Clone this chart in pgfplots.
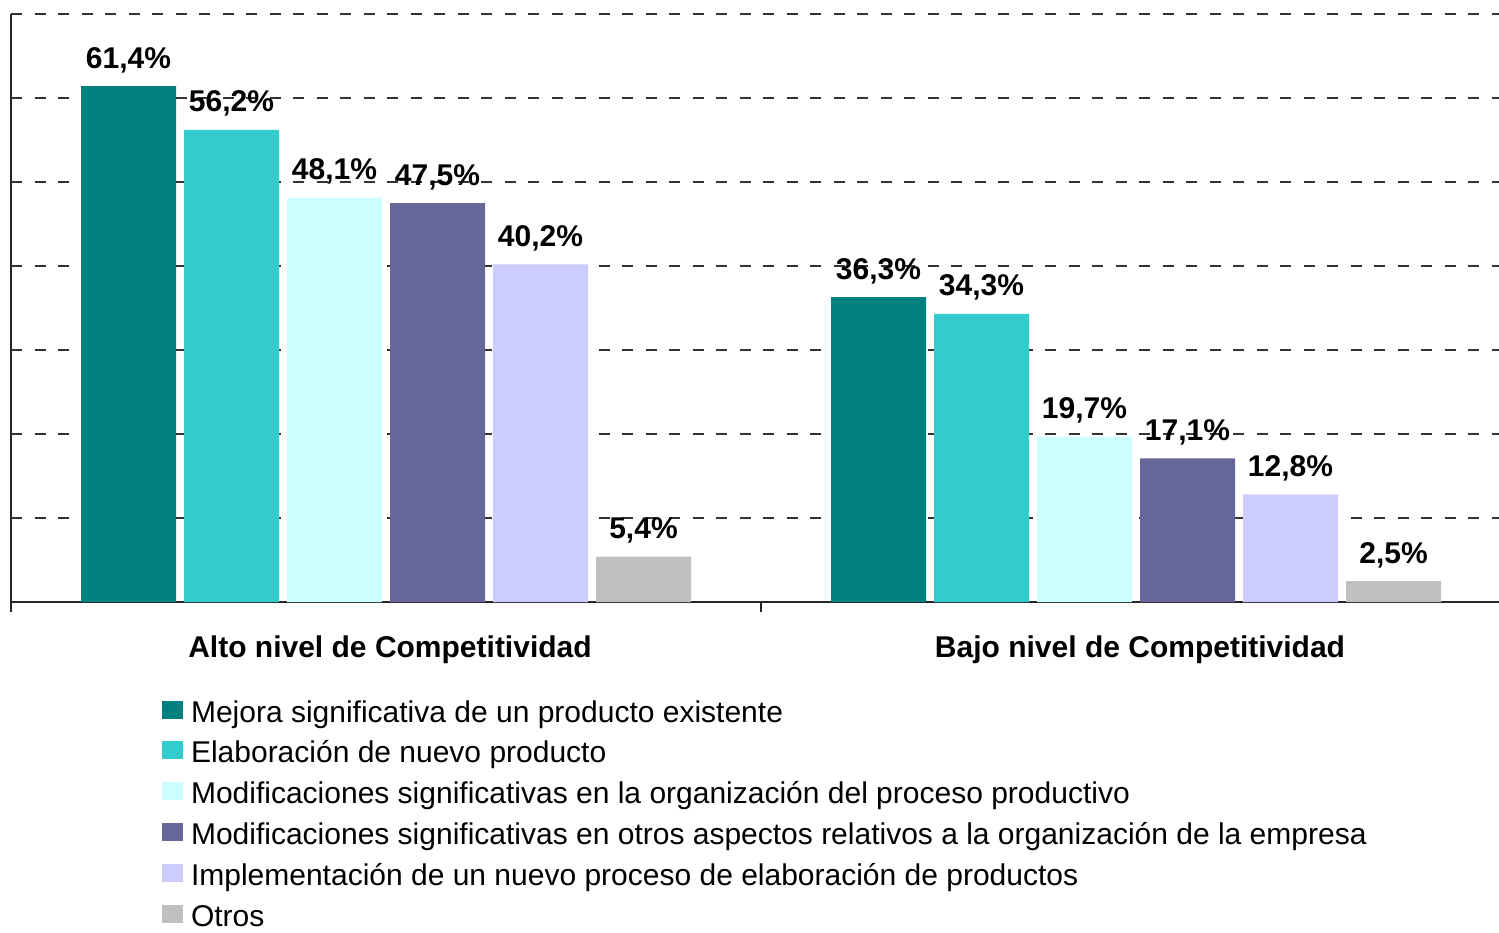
\documentclass[border=0pt]{standalone}
\usepackage{fontspec}
\setmainfont{Liberation Sans}
\usepackage{pgfplots}
\pgfplotsset{compat=1.18}
\definecolor{serA}{RGB}{0,128,128}
\definecolor{serB}{RGB}{51,204,204}
\definecolor{serC}{RGB}{204,255,255}
\definecolor{serD}{RGB}{102,102,153}
\definecolor{serE}{RGB}{204,204,255}
\definecolor{serF}{RGB}{192,192,192}
\newcommand{\chartfont}{\fontsize{15}{18}\selectfont}

\begin{document}
\begin{tikzpicture}
\path[use as bounding box] (-5.5pt,-165pt) rectangle (744pt,301pt);
\begin{axis}[
  scale only axis,
  width=750pt, height=294pt,
  ybar=4pt, bar width=47.5pt,
  xmin=-0.5, xmax=1.5, ymin=0, ymax=70,
  axis x line*=bottom, axis y line*=left,
  axis line style={draw=black!85, line width=0.8pt},
  xtick={0,1},
  xticklabels={Alto nivel de Competitividad, Bajo nivel de Competitividad},
  minor xtick={-0.5,0.5,1.5},
  major tick length=0pt, minor tick length=5pt, tick align=outside,
  minor tick style={draw=black!85, line width=0.8pt},
  ytick={10,20,...,70}, yticklabels={},
  ymajorgrids,
  grid style={draw=black!80, line width=1pt, dash pattern=on 5.5pt off 6.25pt},
  xticklabel style={font=\chartfont\bfseries, anchor=base, yshift=-27.5pt, xshift=2pt},
  nodes near coords={\pgfmathprintnumber[fixed,fixed zerofill,precision=1,use comma,assume math mode=true]{\pgfplotspointmeta}\%},
  every node near coord/.append style={font=\chartfont\bfseries, text=black, anchor=base, yshift=9pt, inner sep=0pt},
  legend style={at={(0.1007,-0.1667)}, anchor=north west, draw=none, fill=none,
    inner sep=0pt, outer sep=0pt, row sep=5.9pt, column sep=4pt,
    font=\chartfont, nodes={inner sep=0pt, text height=11pt, text depth=3.5pt}},
  legend cell align=left,
  every axis plot post/.append style={draw=none,
    legend image code/.code={\fill[##1] (0pt,-2pt) rectangle (10.5pt,7pt);}},
]
  \addplot[fill=serA] coordinates {(0,61.4) (1,36.3)};
  \addlegendentry{Mejora significativa de un producto existente}
  \addplot[fill=serB] coordinates {(0,56.2) (1,34.3)};
  \addlegendentry{Elaboración de nuevo producto}
  \addplot[fill=serC] coordinates {(0,48.1) (1,19.7)};
  \addlegendentry{Modificaciones significativas en la organización del proceso productivo}
  \addplot[fill=serD] coordinates {(0,47.5) (1,17.1)};
  \addlegendentry{Modificaciones significativas en otros aspectos relativos a la organización de la empresa}
  \addplot[fill=serE] coordinates {(0,40.2) (1,12.8)};
  \addlegendentry{Implementación de un nuevo proceso de elaboración de productos}
  \addplot[fill=serF] coordinates {(0,5.4) (1,2.5)};
  \addlegendentry{Otros}
\end{axis}
\end{tikzpicture}
\end{document}
